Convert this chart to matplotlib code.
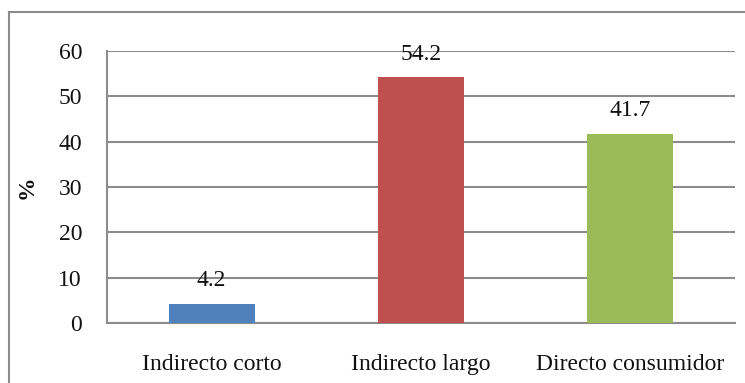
import matplotlib
matplotlib.use("Agg")
import matplotlib.pyplot as plt
from matplotlib.lines import Line2D

categories = ["Indirecto corto", "Indirecto largo", "Directo consumidor"]
values = [4.2, 54.2, 41.7]
bar_colors = ["#4F81BD", "#C0504D", "#9BBB59"]
y_ticks = [0, 10, 20, 30, 40, 50, 60]

plt.rcParams["font.family"] = ["Liberation Serif", "DejaVu Serif"]

FS = 17
W, H = 745, 383
fig = plt.figure(figsize=(W / 100, H / 100), dpi=100)
fig.patch.set_facecolor("white")

ax = fig.add_axes([107 / W, 1 - 323 / H, (735 - 107) / W, (323 - 51) / H])
x = list(range(len(categories)))
ax.bar(x, values, width=0.41, color=bar_colors, zorder=3)

for xi, v in zip(x, values):
    ax.annotate(f"{v:.1f}", (xi, v), xytext=(0, 23), textcoords="offset pixels",
                ha="center", va="center", fontsize=FS, color="#111111", zorder=4)

grid_color = "#8c8c8c"
ax.set_xlim(-0.5, 2.5)
ax.set_ylim(0, 60)
ax.set_yticks(y_ticks)
ax.set_yticklabels([str(t) for t in y_ticks], fontsize=FS)
ax.set_xticks(x)
ax.set_xticklabels(categories, fontsize=FS)
ax.tick_params(axis="both", length=0, colors="#111111")
ax.tick_params(axis="y", pad=18)
ax.tick_params(axis="x", pad=22)
ax.yaxis.grid(True, color=grid_color, linewidth=1.5, zorder=0)
ax.set_axisbelow(True)
for side in ["top", "right"]:
    ax.spines[side].set_visible(False)
for side in ["left", "bottom"]:
    ax.spines[side].set_color(grid_color)
    ax.spines[side].set_linewidth(1.5)

fig.text(27 / W, 1 - 187 / H, "%", rotation=90, ha="center", va="center",
         fontsize=FS, fontweight="bold", color="#111111")

# chart frame (left and top edges)
fx, fy = 8.5 / W, 1 - 11.5 / H
fig.add_artist(Line2D([fx, fx], [0, fy], transform=fig.transFigure,
                      color=grid_color, linewidth=1.5))
fig.add_artist(Line2D([fx, 1], [fy, fy], transform=fig.transFigure,
                      color=grid_color, linewidth=1.5))

fig.savefig("out.png", dpi=100)
